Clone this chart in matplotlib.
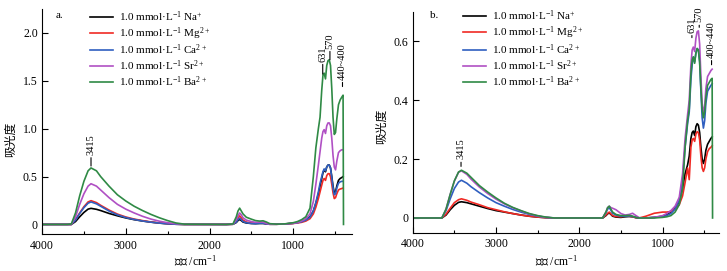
import numpy as np
import matplotlib
matplotlib.use("Agg")
import matplotlib.pyplot as plt
from matplotlib.ticker import MultipleLocator, FuncFormatter

plt.rcParams['font.family'] = ['Liberation Serif', 'Noto Sans CJK SC']
plt.rcParams['mathtext.fontset'] = 'custom'
plt.rcParams['mathtext.rm'] = 'Liberation Serif'
plt.rcParams['mathtext.it'] = 'Liberation Serif:italic'
plt.rcParams['axes.unicode_minus'] = True

# wavenumbers (cm-1), shared by both panels
wn = [4000, 3700, 3650, 3600, 3550, 3500, 3450, 3415, 3350, 3300, 3200, 3100, 3000,
      2900, 2800, 2700, 2600, 2500, 2400, 2300, 1800, 1720, 1680, 1660, 1640, 1620,
      1600, 1560, 1500, 1450, 1400, 1360, 1320, 1280, 1200, 1100, 1000, 950, 900,
      850, 800, 760, 730, 700, 680, 660, 645, 631, 615, 600, 585, 570, 555, 540,
      525, 510, 495, 480, 460, 440, 420, 405, 400]
nan = np.nan

ions = ['Na$^{+}$', 'Mg$^{2+}$', 'Ca$^{2+}$', 'Sr$^{2+}$', 'Ba$^{2+}$']
colors = ['#000000', '#f02a24', '#2f5fc0', '#b050c4', '#2f8a45']

# panel a
a_na = [0, 0, 0, 0.03, 0.08, 0.125, 0.16, 0.168, 0.158, 0.145, 0.115, 0.09, 0.068,
        0.05, 0.036, 0.024, 0.014, 0.007, 0.002, 0, 0, 0.002, 0.02, 0.04, 0.052, 0.04,
        0.025, 0.015, 0.01, 0.008, 0.01, 0.01, 0.005, 0.002, 0.002, 0.005, 0.012, 0.02, 0.03,
        0.05, 0.08, 0.14, 0.22, 0.32, 0.40, 0.48, 0.54, 0.57, 0.55, 0.60, 0.62, 0.62, 0.59, 0.50,
        0.40, 0.33, 0.34, 0.40, 0.46, 0.48, 0.49, 0.50, nan]
a_mg = [0, 0, 0, 0.05, 0.12, 0.185, 0.235, 0.248, 0.228, 0.20, 0.15, 0.108, 0.078,
        0.056, 0.04, 0.026, 0.016, 0.008, 0.003, 0, 0, 0.002, 0.03, 0.065, 0.09, 0.07,
        0.045, 0.025, 0.015, 0.012, 0.018, 0.018, 0.008, 0.002, 0.002, 0.004, 0.01, 0.015, 0.022,
        0.035, 0.06, 0.11, 0.18, 0.27, 0.34, 0.41, 0.46, 0.48, 0.46, 0.51, 0.53, 0.53, 0.50, 0.42,
        0.33, 0.27, 0.28, 0.32, 0.36, 0.37, 0.375, 0.38, nan]
a_ca = [0, 0, 0, 0.045, 0.115, 0.175, 0.222, 0.235, 0.215, 0.19, 0.14, 0.10, 0.072,
        0.052, 0.036, 0.024, 0.014, 0.007, 0.002, 0, 0, 0.002, 0.025, 0.05, 0.065, 0.05,
        0.03, 0.018, 0.01, 0.008, 0.012, 0.012, 0.005, 0.002, 0.002, 0.005, 0.012, 0.018, 0.028,
        0.045, 0.075, 0.14, 0.23, 0.34, 0.43, 0.50, 0.55, 0.58, 0.56, 0.60, 0.62, 0.62, 0.59, 0.49,
        0.38, 0.31, 0.32, 0.38, 0.43, 0.445, 0.45, 0.45, nan]
a_sr = [0, 0, 0, 0.08, 0.21, 0.32, 0.40, 0.425, 0.40, 0.36, 0.28, 0.21, 0.16,
        0.12, 0.085, 0.056, 0.034, 0.018, 0.007, 0.002, 0, 0.003, 0.05, 0.09, 0.12, 0.10,
        0.07, 0.045, 0.03, 0.022, 0.025, 0.024, 0.01, 0.003, 0.002, 0.005, 0.012, 0.02, 0.035,
        0.06, 0.11, 0.24, 0.42, 0.62, 0.76, 0.90, 0.97, 0.99, 0.95, 1.03, 1.06, 1.06, 1.03, 0.90,
        0.72, 0.60, 0.57, 0.66, 0.75, 0.77, 0.78, 0.78, nan]
a_ba = [0, 0, 0.005, 0.12, 0.30, 0.45, 0.56, 0.59, 0.56, 0.50, 0.40, 0.31, 0.245,
        0.19, 0.145, 0.105, 0.07, 0.04, 0.015, 0.003, 0, 0.005, 0.08, 0.14, 0.17, 0.14,
        0.11, 0.075, 0.055, 0.04, 0.035, 0.038, 0.025, 0.008, 0.003, 0.006, 0.018, 0.03, 0.05,
        0.08, 0.17, 0.50, 0.80, 1.00, 1.12, 1.40, 1.56, 1.58, 1.52, 1.66, 1.71, 1.72, 1.66, 1.42,
        1.12, 0.94, 0.96, 1.10, 1.25, 1.30, 1.33, 1.35, 0.0]

# panel b
b_na = [0, 0, 0, 0.01, 0.028, 0.043, 0.053, 0.055, 0.052, 0.048, 0.04, 0.032, 0.025,
        0.02, 0.015, 0.01, 0.006, 0.003, 0.001, 0, 0, 0, 0.008, 0.014, 0.017, 0.012,
        0.006, 0.003, 0.002, 0.004, 0.005, 0.004, 0.001, 0, 0, 0.002, 0.006, 0.012, 0.02,
        0.035, 0.055, 0.10, 0.15, 0.18, 0.21, 0.27, 0.29, 0.295, 0.28, 0.31, 0.32, 0.315, 0.29, 0.24,
        0.20, 0.185, 0.20, 0.23, 0.25, 0.26, 0.27, 0.275, nan]
b_mg = [0, 0, 0, 0.013, 0.033, 0.052, 0.062, 0.065, 0.06, 0.054, 0.045, 0.035, 0.028,
        0.021, 0.015, 0.01, 0.006, 0.003, 0.001, 0, 0, 0, 0.01, 0.016, 0.02, 0.014,
        0.008, 0.005, 0.004, 0.006, 0.006, 0.004, 0.001, 0, 0.006, 0.016, 0.02, 0.02, 0.022,
        0.03, 0.045, 0.075, 0.12, 0.17, 0.13, 0.24, 0.265, 0.27, 0.26, 0.285, 0.293, 0.29, 0.265, 0.21,
        0.17, 0.158, 0.17, 0.20, 0.225, 0.235, 0.24, 0.245, nan]
b_ca = [0, 0, 0, 0.025, 0.065, 0.10, 0.122, 0.128, 0.118, 0.106, 0.086, 0.068, 0.052,
        0.04, 0.029, 0.02, 0.012, 0.006, 0.002, 0, 0, 0, 0.018, 0.03, 0.035, 0.026,
        0.016, 0.01, 0.006, 0.006, 0.007, 0.005, 0.002, 0, 0, 0.002, 0.004, 0.008, 0.015,
        0.03, 0.06, 0.13, 0.24, 0.32, 0.36, 0.47, 0.52, 0.545, 0.53, 0.56, 0.575, 0.57, 0.53, 0.43,
        0.34, 0.305, 0.33, 0.39, 0.43, 0.44, 0.45, 0.455, nan]
b_sr = [0, 0, 0, 0.03, 0.08, 0.125, 0.155, 0.16, 0.148, 0.132, 0.105, 0.083, 0.064,
        0.048, 0.035, 0.024, 0.014, 0.007, 0.002, 0, 0, 0, 0.02, 0.035, 0.04, 0.035,
        0.033, 0.028, 0.015, 0.01, 0.012, 0.016, 0.008, 0.001, 0, 0.002, 0.008, 0.015, 0.025,
        0.04, 0.07, 0.15, 0.27, 0.35, 0.40, 0.52, 0.57, 0.58, 0.565, 0.61, 0.632, 0.635, 0.59, 0.48,
        0.39, 0.355, 0.38, 0.44, 0.48, 0.49, 0.50, 0.505, nan]
b_ba = [0, 0, 0, 0.03, 0.08, 0.126, 0.156, 0.162, 0.152, 0.138, 0.11, 0.088, 0.068,
        0.05, 0.036, 0.025, 0.015, 0.008, 0.003, 0, 0, 0, 0.02, 0.035, 0.04, 0.03,
        0.02, 0.012, 0.008, 0.008, 0.009, 0.006, 0.002, 0, 0, 0, 0.002, 0.004, 0.008,
        0.02, 0.045, 0.10, 0.24, 0.33, 0.37, 0.49, 0.535, 0.547, 0.525, 0.56, 0.575, 0.57, 0.53, 0.44,
        0.37, 0.34, 0.36, 0.41, 0.45, 0.46, 0.47, 0.474, 0.0]

# peak labels: text, wavenumber, line bottom (absorbance), line length (pt)
a_marks = [('3415', 3415, 0.61, 8), ('631', 648, 1.57, 9), ('570', 562, 1.72, 8),
           ('440~400', 412, 1.44, 5)]
b_marks = [('3415', 3420, 0.175, 5), ('631', 648, 0.612, 3.5), ('570', 560, 0.647, 3.5),
           ('400~440', 412, 0.52, 5)]

fig = plt.figure(figsize=(7.27, 2.71), dpi=100)
ax_a = fig.add_axes([0.0578, 0.1365, 0.4262, 0.8303])
ax_b = fig.add_axes([0.5677, 0.1413, 0.4216, 0.8155])


def style(ax, xmax, ylim, ystep, label, lab_x, lab_y, leg_x, leg_y, ylab, xlab):
    ax.set_xlim(4000, xmax)
    ax.set_ylim(*ylim)
    ax.spines['top'].set_visible(False)
    ax.spines['right'].set_visible(False)
    for s in ('left', 'bottom'):
        ax.spines[s].set_linewidth(0.8)
    ax.xaxis.set_major_locator(MultipleLocator(1000))
    ax.xaxis.set_minor_locator(MultipleLocator(500))
    ax.yaxis.set_major_locator(MultipleLocator(ystep))
    ax.yaxis.set_major_formatter(FuncFormatter(lambda v, p: '0' if abs(v) < 1e-9 else f'{v:.1f}'))
    ax.tick_params(which='both', direction='in', labelsize=8.5, width=0.8)
    ax.tick_params(which='major', length=4)
    ax.tick_params(which='minor', length=2.5)
    ax.tick_params(axis='x', pad=4)
    ax.tick_params(axis='y', pad=3)
    ax.set_ylabel('吸光度', fontsize=8.5)
    ax.set_xlabel('波数 /cm$^{-1}$', fontsize=8.5)
    ax.yaxis.set_label_coords(*ylab)
    ax.xaxis.set_label_coords(*xlab)
    ax.text(lab_x, lab_y, label, transform=ax.transAxes, fontsize=8, va='center', ha='left')
    ax.legend(loc='upper left', bbox_to_anchor=(leg_x, leg_y), frameon=False, fontsize=8,
              handlelength=2.1, handletextpad=0.5, labelspacing=0.12, borderpad=0,
              borderaxespad=0)


def marks(ax, items):
    for txt, x, y, length in items:
        ax.annotate(txt, xy=(x, y), xytext=(0, length), textcoords='offset points',
                    rotation=90, ha='center', va='bottom', fontsize=7.5,
                    arrowprops=dict(arrowstyle='-', lw=0.8, color='black', shrinkA=0, shrinkB=0))


for ax, series in ((ax_a, [a_na, a_mg, a_ca, a_sr, a_ba]), (ax_b, [b_na, b_mg, b_ca, b_sr, b_ba])):
    for ion, vals, c in zip(ions, series, colors):
        ax.plot(wn, vals, color=c, lw=1.2, label='1.0 mmol·L$^{-1}$ ' + ion)

style(ax_a, 300, (-0.1, 2.25), 0.5, 'a.', 0.045, 0.972, 0.155, 1.0,
      (-0.082, 0.42), (0.497, -0.085))
style(ax_b, 320, (-0.05, 0.70), 0.2, 'b.', 0.055, 0.985, 0.164, 1.015,
      (-0.081, 0.483), (0.468, -0.092))
marks(ax_a, a_marks)
marks(ax_b, b_marks)

fig.savefig('out.png', dpi=100)
